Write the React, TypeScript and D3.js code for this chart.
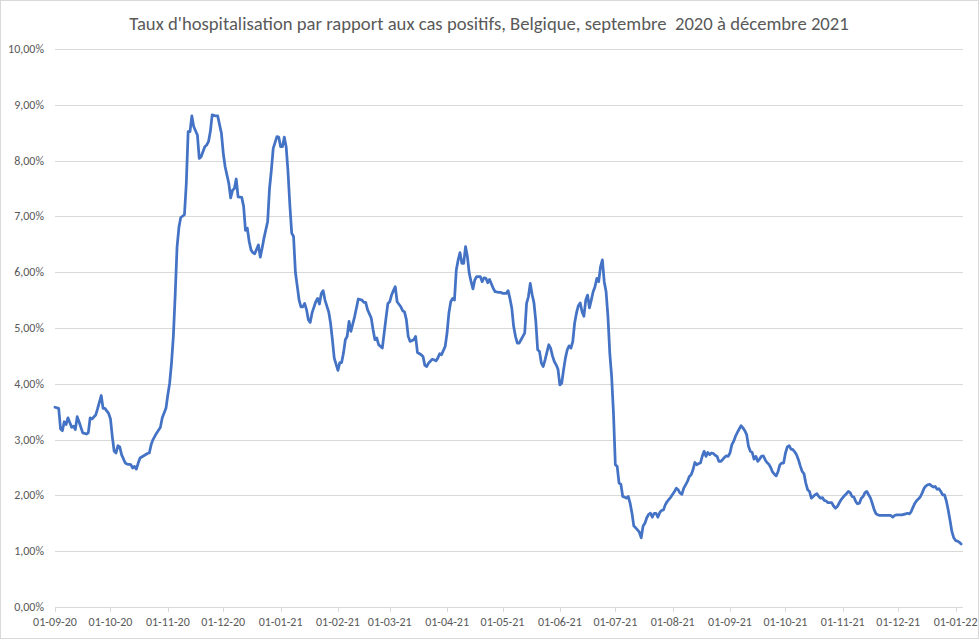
import React, { useEffect, useRef } from 'react';
import * as d3 from 'd3';

const title = "Taux d'hospitalisation par rapport aux cas positifs, Belgique, septembre  2020 à décembre 2021";

// day offset since 01-09-2020, and hospitalisation rate in %
const days = [
  0, 2, 3, 4, 5, 6, 7, 9, 10, 11, 12, 13, 15, 17, 18, 19, 20, 22, 23, 25, 26, 27, 29, 30, 31, 32, 33, 34, 35, 36, 38, 39,
  41, 42, 43, 44, 45, 46, 48, 50, 51, 52, 53, 55, 57, 58, 60, 61, 62, 63, 64, 65, 66, 67, 68, 70, 71, 72, 73, 74, 75, 77,
  78, 79, 81, 82, 83, 84, 85, 87, 88, 89, 90, 91, 92, 94, 95, 96, 97, 98, 99, 101, 102, 103, 104, 105, 106, 107, 108, 110,
  111, 112, 113, 115, 116, 117, 118, 120, 121, 122, 123, 124, 125, 126, 127, 128, 129, 130, 131, 132, 133, 134, 135, 136,
  137, 138, 139, 141, 142, 143, 144, 145, 146, 148, 149, 150, 151, 153, 154, 155, 156, 157, 158, 159, 160, 162, 163, 164,
  166, 167, 168, 169, 171, 172, 173, 174, 175, 177, 178, 179, 180, 181, 182, 183, 184, 185, 187, 188, 189, 190, 191, 192,
  194, 195, 196, 198, 199, 200, 201, 202, 204, 205, 206, 207, 208, 209, 211, 212, 213, 214, 215, 216, 217, 218, 219, 220,
  221, 222, 223, 224, 225, 226, 227, 228, 230, 231, 232, 233, 234, 235, 236, 237, 238, 240, 241, 242, 244, 245, 246, 247,
  248, 249, 250, 251, 252, 253, 254, 255, 256, 257, 258, 259, 260, 261, 262, 263, 264, 265, 267, 268, 269, 270, 271, 272,
  273, 274, 275, 276, 277, 278, 279, 280, 281, 282, 283, 284, 285, 286, 287, 288, 289, 290, 291, 292, 293, 294, 295, 296,
  297, 298, 299, 300, 301, 302, 303, 304, 305, 306, 307, 308, 309, 310, 311, 312, 313, 314, 315, 316, 317, 318, 319, 320,
  321, 322, 323, 324, 325, 326, 327, 328, 329, 330, 331, 332, 333, 334, 335, 336, 337, 338, 339, 340, 341, 342, 343, 344,
  345, 346, 347, 348, 349, 350, 351, 352, 353, 354, 355, 356, 357, 358, 359, 360, 361, 362, 363, 364, 365, 366, 367, 368,
  369, 370, 371, 372, 373, 374, 375, 376, 377, 378, 379, 380, 381, 382, 383, 384, 385, 386, 387, 388, 389, 390, 391, 392,
  393, 394, 395, 396, 397, 398, 399, 400, 401, 402, 403, 404, 405, 406, 407, 408, 409, 410, 411, 412, 413, 414, 415, 416,
  417, 418, 420, 421, 422, 423, 424, 425, 426, 427, 428, 429, 430, 431, 432, 433, 434, 435, 436, 437, 438, 439, 440, 441,
  442, 443, 444, 445, 446, 449, 452, 453, 454, 455, 458, 460, 461, 462, 463, 464, 465, 466, 467, 468, 469, 470, 471, 472,
  473, 474, 475, 476, 477, 478, 479, 480, 481, 482, 483, 484, 485, 486, 487, 488, 489, 490,
];

const rates = [
  3.58, 3.56, 3.19, 3.16, 3.32, 3.27, 3.39, 3.22, 3.24, 3.18, 3.41, 3.32, 3.12, 3.10, 3.12, 3.39, 3.37, 3.44, 3.55, 3.79, 3.56, 3.56, 3.47, 3.37, 3.05, 2.79, 2.76, 2.89, 2.87, 2.73, 2.58, 2.56,
  2.55, 2.49, 2.52, 2.47, 2.58, 2.67, 2.71, 2.75, 2.76, 2.91, 3.00, 3.12, 3.22, 3.39, 3.56, 3.80, 4.01, 4.37, 4.85, 5.6, 6.45, 6.8, 6.98, 7.03, 7.59, 8.52, 8.52, 8.80, 8.61, 8.46,
  8.04, 8.07, 8.25, 8.28, 8.34, 8.52, 8.82, 8.80, 8.80, 8.64, 8.49, 8.13, 7.89, 7.59, 7.33, 7.47, 7.50, 7.67, 7.35, 7.34, 7.18, 6.75, 6.79, 6.55, 6.40, 6.35, 6.33, 6.49,
  6.27, 6.43, 6.61, 6.91, 7.50, 7.83, 8.22, 8.43, 8.42, 8.25, 8.25, 8.42, 8.25, 7.8, 7.2, 6.7, 6.64, 6.0, 5.75, 5.5, 5.38, 5.38, 5.44, 5.33,
  5.15, 5.10, 5.27, 5.47, 5.53, 5.43, 5.62, 5.67, 5.50, 5.29, 5.09, 4.79, 4.46, 4.24, 4.38, 4.38, 4.55, 4.79, 4.85, 5.12, 4.94, 5.20, 5.36, 5.52,
  5.50, 5.46, 5.46, 5.33, 5.18, 4.97, 4.79, 4.82, 4.70, 4.64, 4.91, 5.18, 5.44, 5.47, 5.59, 5.67, 5.74, 5.47, 5.38, 5.31, 5.29, 5.15, 4.85, 4.76,
  4.79, 4.85, 4.56, 4.52, 4.49, 4.33, 4.31, 4.37, 4.44, 4.43, 4.41, 4.46, 4.54, 4.52, 4.67, 4.91, 5.27, 5.47, 5.53, 5.50, 6.04, 6.22, 6.35, 6.16,
  6.16, 6.46, 6.28, 5.98, 5.83, 5.70, 5.86, 5.92, 5.92, 5.83, 5.90, 5.89, 5.81, 5.87, 5.79, 5.71, 5.65, 5.64, 5.64, 5.62, 5.62, 5.67, 5.53, 5.36,
  5.03, 4.85, 4.73, 4.73, 4.79, 4.85, 4.91, 5.44, 5.56, 5.80, 5.6, 5.45, 5.12, 4.61, 4.58, 4.37, 4.31, 4.43, 4.70, 4.64, 4.50, 4.40, 4.34, 4.26,
  3.98, 4.01, 4.25, 4.46, 4.61, 4.68, 4.64, 4.76, 5.09, 5.27, 5.40, 5.45, 5.29, 5.21, 5.50, 5.59, 5.36, 5.50, 5.65, 5.74, 5.89, 5.83, 6.10, 6.22,
  5.83, 5.65, 5.21, 4.55, 4.13, 3.47, 2.55, 2.52, 2.22, 2.20, 1.98, 1.97, 1.95, 1.98, 1.86, 1.68, 1.45, 1.42, 1.38, 1.34, 1.24, 1.45, 1.50, 1.60,
  1.66, 1.68, 1.61, 1.68, 1.68, 1.61, 1.69, 1.73, 1.74, 1.83, 1.89, 1.93, 1.97, 2.02, 2.07, 2.13, 2.10, 2.04, 2.02, 2.13, 2.19, 2.25, 2.34, 2.37,
  2.46, 2.59, 2.55, 2.57, 2.58, 2.70, 2.79, 2.70, 2.77, 2.73, 2.76, 2.75, 2.72, 2.70, 2.61, 2.61, 2.64, 2.68, 2.71, 2.70, 2.76, 2.91, 2.97, 3.06,
  3.13, 3.19, 3.25, 3.21, 3.16, 3.09, 2.88, 2.79, 2.77, 2.65, 2.70, 2.61, 2.65, 2.70, 2.71, 2.64, 2.59, 2.56, 2.50, 2.42, 2.38, 2.35, 2.43, 2.55,
  2.58, 2.58, 2.76, 2.87, 2.89, 2.83, 2.82, 2.78, 2.73, 2.64, 2.53, 2.43, 2.39, 2.22, 2.10, 2.07, 1.95, 1.98, 2.01, 2.03, 1.98, 1.95, 1.96, 1.91,
  1.90, 1.87, 1.87, 1.81, 1.77, 1.80, 1.86, 1.92, 1.96, 2.00, 2.03, 2.07, 2.05, 1.98, 1.97, 1.89, 1.85, 1.86, 1.95, 1.98, 2.05, 2.07, 2.01, 1.95,
  1.85, 1.74, 1.67, 1.65, 1.64, 1.64, 1.64, 1.61, 1.64, 1.65, 1.65, 1.67, 1.68, 1.67, 1.71, 1.79, 1.86, 1.91, 1.94, 1.98, 2.05, 2.13, 2.17, 2.19,
  2.20, 2.17, 2.15, 2.16, 2.11, 2.12, 2.07, 2.01, 2.01, 1.90, 1.74, 1.55, 1.35, 1.24, 1.19, 1.18, 1.16, 1.13,
];

const yTicks = [0, 1, 2, 3, 4, 5, 6, 7, 8, 9, 10];

const startDate = new Date(2020, 8, 1);
const endDate = d3.timeDay.offset(startDate, 491);

const App: React.FC = () => {
  const svgRef = useRef<SVGSVGElement>(null);

  useEffect(() => {
    if (!svgRef.current) return;
    const width = 979;
    const height = 639;
    const margin = { top: 49, right: 16, bottom: 32, left: 55 };

    const svg = d3.select(svgRef.current);
    svg.selectAll('*').remove();
    svg.attr('width', width).attr('height', height);

    svg.append('rect')
      .attr('x', 0.5).attr('y', 0.5)
      .attr('width', width - 1).attr('height', height - 1)
      .attr('fill', '#fff')
      .attr('stroke', '#d9d9d9');

    const x = d3.scaleTime()
      .domain([startDate, endDate])
      .range([margin.left, width - margin.right]);

    const y = d3.scaleLinear()
      .domain([0, 10])
      .range([height - margin.bottom, margin.top]);

    const font = "Calibri, Carlito, 'Liberation Sans', Arial, sans-serif";

    svg.append('text')
      .attr('x', 489)
      .attr('y', 30)
      .attr('text-anchor', 'middle')
      .attr('font-family', font)
      .attr('font-size', 18.67)
      .attr('fill', '#595959')
      .style('white-space', 'pre')
      .text(title);

    // gridlines
    svg.append('g')
      .selectAll('line')
      .data(yTicks)
      .enter()
      .append('line')
      .attr('x1', margin.left)
      .attr('x2', width - margin.right)
      .attr('y1', d => Math.round(y(d)) + 0.5)
      .attr('y2', d => Math.round(y(d)) + 0.5)
      .attr('stroke', '#d9d9d9')
      .attr('stroke-width', 1);

    svg.append('g')
      .selectAll('text')
      .data(yTicks)
      .enter()
      .append('text')
      .attr('x', 44)
      .attr('y', d => y(d) + 4)
      .attr('text-anchor', 'end')
      .attr('font-family', font)
      .attr('font-size', 12)
      .attr('fill', '#595959')
      .text(d => d.toFixed(2).replace('.', ',') + '%');

    // x axis ticks
    const months = d3.timeMonth.range(startDate, d3.timeDay.offset(endDate, 1));
    const xAxis = svg.append('g');
    xAxis.selectAll('line')
      .data(months)
      .enter()
      .append('line')
      .attr('x1', d => Math.round(x(d)) + 0.5)
      .attr('x2', d => Math.round(x(d)) + 0.5)
      .attr('y1', y(0))
      .attr('y2', y(0) + 5)
      .attr('stroke', '#d9d9d9');

    xAxis.selectAll('text')
      .data(months)
      .enter()
      .append('text')
      .attr('x', d => x(d))
      .attr('y', 626)
      .attr('text-anchor', 'middle')
      .attr('font-family', font)
      .attr('font-size', 12)
      .attr('fill', '#595959')
      .text(d => d3.timeFormat('%d-%m-%y')(d));

    const points = days.map((d, i) => ({ date: d3.timeDay.offset(startDate, d), v: rates[i] }));

    const line = d3.line<{ date: Date; v: number }>()
      .x(d => x(d.date))
      .y(d => y(d.v));

    svg.append('path')
      .datum(points)
      .attr('d', line)
      .attr('fill', 'none')
      .attr('stroke', '#4472c4')
      .attr('stroke-width', 2.75)
      .attr('stroke-linejoin', 'round')
      .attr('stroke-linecap', 'round');
  }, []);

  return (
    <div style={{ position: 'absolute', left: 0, top: 0 }}>
      <svg ref={svgRef}></svg>
    </div>
  );
};

export default App;
